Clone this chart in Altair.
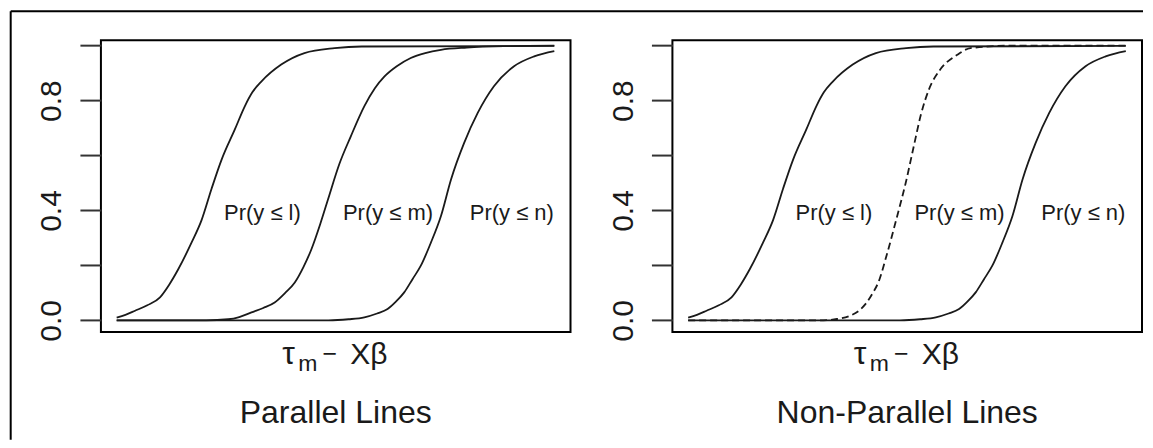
import altair as alt
import pandas as pd

# ---- data (x in arbitrary units 0..100, y = probability) ----
c1_x = [0, 2, 4.2, 7, 9.9, 12, 14.1, 17.1, 19.4, 21.7, 24.0, 27.0, 29.3, 31, 33.1, 37.6, 42.9, 49.8, 56, 100]
c1_y = [0.010, 0.020, 0.035, 0.055, 0.084, 0.13, 0.187, 0.283, 0.365, 0.48, 0.586, 0.695, 0.78, 0.83, 0.87, 0.931, 0.973, 0.991, 0.997, 0.999]

c2_x = [0, 20.5, 25.5, 28, 30.8, 33.5, 36.1, 38.5, 40.7, 42.7, 44.5, 46.5, 48.3, 50.9, 53.5, 56.6, 59, 61.2, 64, 67.2, 70.5, 74.1, 80, 88.4, 100]
c2_y = [0.0, 0.0, 0.004, 0.012, 0.029, 0.045, 0.065, 0.10, 0.138, 0.195, 0.259, 0.35, 0.441, 0.57, 0.67, 0.78, 0.845, 0.888, 0.925, 0.955, 0.973, 0.985, 0.993, 0.998, 1.0]

c3_x = [0, 48.4, 53, 56.6, 59.5, 61.9, 63.8, 65.7, 67.6, 69.5, 71.8, 74.1, 76.4, 79.4, 82.5, 86.2, 90.8, 95.4, 100]
c3_y = [0.0, 0.0, 0.004, 0.011, 0.025, 0.041, 0.068, 0.102, 0.15, 0.199, 0.283, 0.38, 0.513, 0.646, 0.755, 0.852, 0.925, 0.961, 0.98]

cd_x = [0, 30, 34.0, 37.0, 39, 40.8, 42.2, 43.5, 45.4, 47.6, 49.7, 51.5, 53.2, 55, 57.6, 61.5, 64.5, 73.7, 100]
cd_y = [0.0, 0.0, 0.005, 0.017, 0.035, 0.065, 0.10, 0.14, 0.24, 0.37, 0.5, 0.63, 0.75, 0.84, 0.913, 0.967, 0.991, 1.0, 1.0]

label_text = ["Pr(y ≤ l)", "Pr(y ≤ m)", "Pr(y ≤ n)"]
label_x = [33.3, 62.0, 90.3]
label_y = [0.392, 0.392, 0.392]

y_ticks = [0.0, 0.2, 0.4, 0.6, 0.8, 1.0]
y_labels = ["0.0", "0.4", "0.8"]
panel_titles = ["Parallel Lines", "Non-Parallel Lines"]

FONT = "Liberation Sans"
INK = "#1a1a1a"
W, H = 470, 292


def curve_df(name, xs, ys):
    return pd.DataFrame({"curve": name, "x": xs, "y": ys})


xs = alt.Scale(domain=[-3.6, 103.7], nice=False, zero=False)
ys = alt.Scale(domain=[-0.042, 1.02], nice=False, zero=False)
label_expr = "indexof(" + str(y_labels) + ", format(datum.value, '.1f')) >= 0 ? format(datum.value, '.1f') : ''"
y_axis = alt.Axis(values=y_ticks, grid=False, domain=False, tickSize=21, tickWidth=2,
                  tickColor="#333333", labelFontSize=30, labelFont=FONT, labelColor=INK,
                  labelAngle=270, labelAlign="center", labelBaseline="alphabetic",
                  labelPadding=19, labelOverlap=False, labelFlush=False,
                  labelExpr=label_expr, title=None)


def X():
    return alt.X("x:Q", scale=xs, axis=None)


def Y():
    return alt.Y("y:Q", scale=ys, axis=y_axis)


one = pd.DataFrame({"a": [0]})


def text_at(txt, px, py, size, align="center"):
    return alt.Chart(one).mark_text(text=txt, font=FONT, fontSize=size, color=INK,
                                    align=align, baseline="alphabetic").encode(
        x=alt.value(px), y=alt.value(py))


def panel(dashed, title, with_frame):
    solid = pd.concat([curve_df("c1", c1_x, c1_y),
                       curve_df("c3", c3_x, c3_y)] +
                      ([] if dashed else [curve_df("c2", c2_x, c2_y)]))
    layers = [
        alt.Chart(solid).mark_line(color=INK, strokeWidth=1.8, interpolate="monotone").encode(
            x=X(), y=Y(), detail="curve:N")
    ]
    if dashed:
        layers.append(
            alt.Chart(curve_df("cd", cd_x, cd_y)).mark_line(
                color=INK, strokeWidth=1.8, strokeDash=[7, 4], interpolate="monotone").encode(
                x=X(), y=Y()))
    lab = pd.DataFrame({"t": label_text, "x": label_x, "y": label_y})
    layers.append(alt.Chart(lab).mark_text(font=FONT, fontSize=22, color=INK,
                                           baseline="middle").encode(
        x=X(), y=Y(), text="t:N"))
    # x-axis title  tau_m - X beta
    layers += [
        text_at("τ", 187.7, 324, 32),
        text_at("m", 207.2, 331, 23),
        text_at("−", 229.2, 322, 25),
        text_at("Xβ", 268.2, 324, 30),
        text_at(title, 235, 383, 32),
    ]
    if with_frame:
        layers += [
            alt.Chart(one).mark_rule(color="black", strokeWidth=2).encode(
                x=alt.value(-90.3), y=alt.value(-29), y2=alt.value(400)),
            alt.Chart(one).mark_rule(color="black", strokeWidth=2).encode(
                x=alt.value(-90.3), x2=alt.value(1043), y=alt.value(-29)),
        ]
    return alt.layer(*layers).properties(width=W, height=H)


left = panel(False, panel_titles[0], True)
right = panel(True, panel_titles[1], False)

chart = alt.hconcat(left, right, spacing=102, bounds="flush").properties(
    padding={"left": 0, "top": 1, "right": 0, "bottom": 0}
).configure_view(stroke="black", strokeWidth=2)

chart.save("out.html", embed_options={"renderer": "svg", "actions": False})
